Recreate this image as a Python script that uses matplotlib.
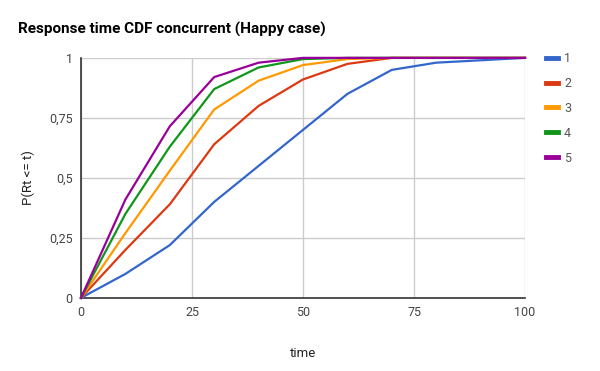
import matplotlib
matplotlib.use('Agg')
import matplotlib.pyplot as plt
from matplotlib.lines import Line2D

plt.rcParams['font.family'] = ['Roboto', 'DejaVu Sans']

# time axis and CDF per concurrency level
times = [0, 10, 20, 30, 40, 50, 60, 70, 80, 90, 100]
series_names = ['1', '2', '3', '4', '5']
cdf_1 = [0, 0.10, 0.22, 0.40, 0.55, 0.70, 0.85, 0.95, 0.98, 0.99, 1.0]
cdf_2 = [0, 0.20, 0.39, 0.64, 0.80, 0.91, 0.975, 1.0, 1.0, 1.0, 1.0]
cdf_3 = [0, 0.27, 0.53, 0.785, 0.905, 0.97, 0.995, 1.0, 1.0, 1.0, 1.0]
cdf_4 = [0, 0.35, 0.63, 0.87, 0.96, 0.995, 1.0, 1.0, 1.0, 1.0, 1.0]
cdf_5 = [0, 0.41, 0.715, 0.92, 0.98, 1.0, 1.0, 1.0, 1.0, 1.0, 1.0]
y_ticks = [0, 0.25, 0.5, 0.75, 1]
y_labels = ['0', '0,25', '0,5', '0,75', '1']
x_ticks = [0, 25, 50, 75, 100]

colors = ['#3366cc', '#dc3912', '#ff9900', '#109618', '#990099']

fig = plt.figure(figsize=(6, 3.71), dpi=100)
ax = fig.add_axes([0.135, 0.197, 0.74, 0.647])

all_cdf = [cdf_1, cdf_2, cdf_3, cdf_4, cdf_5]
for vals, c in zip(all_cdf, colors):
    ax.plot(times, vals, '-', color=c, lw=1.6, solid_joinstyle='round', clip_on=False, zorder=3)

ax.set_xlim(0, 100)
ax.set_ylim(0, 1)
ax.set_xticks(x_ticks)
ax.set_yticks(y_ticks)
ax.set_yticklabels(y_labels)
ax.grid(True, color='#cccccc', lw=1)
ax.set_axisbelow(True)
for s in ['top', 'right']:
    ax.spines[s].set_visible(False)
for s in ['left', 'bottom']:
    ax.spines[s].set_color('#333333')
    ax.spines[s].set_linewidth(1.2)
ax.tick_params(length=0, colors='#444444', labelsize=9, pad=6)

ax.set_xlabel('time', fontsize=9.5, color='#222222', labelpad=20)
ax.set_ylabel('P(Rt <= t)', fontsize=9.5, color='#222222', labelpad=10)

fig.text(0.03, 0.92, 'Response time CDF concurrent (Happy case)',
         fontsize=11, fontweight='bold', color='#000000', va='center')

handles = [Line2D([0], [0], color=c, lw=3.5) for c in colors]
fig.legend(handles, series_names, loc='upper left', bbox_to_anchor=(0.891, 0.89),
           frameon=False, fontsize=9, handlelength=1.0, labelspacing=0.95,
           handletextpad=0.45, labelcolor='#555555')

plt.savefig('out.png', dpi=100)
plt.close()
